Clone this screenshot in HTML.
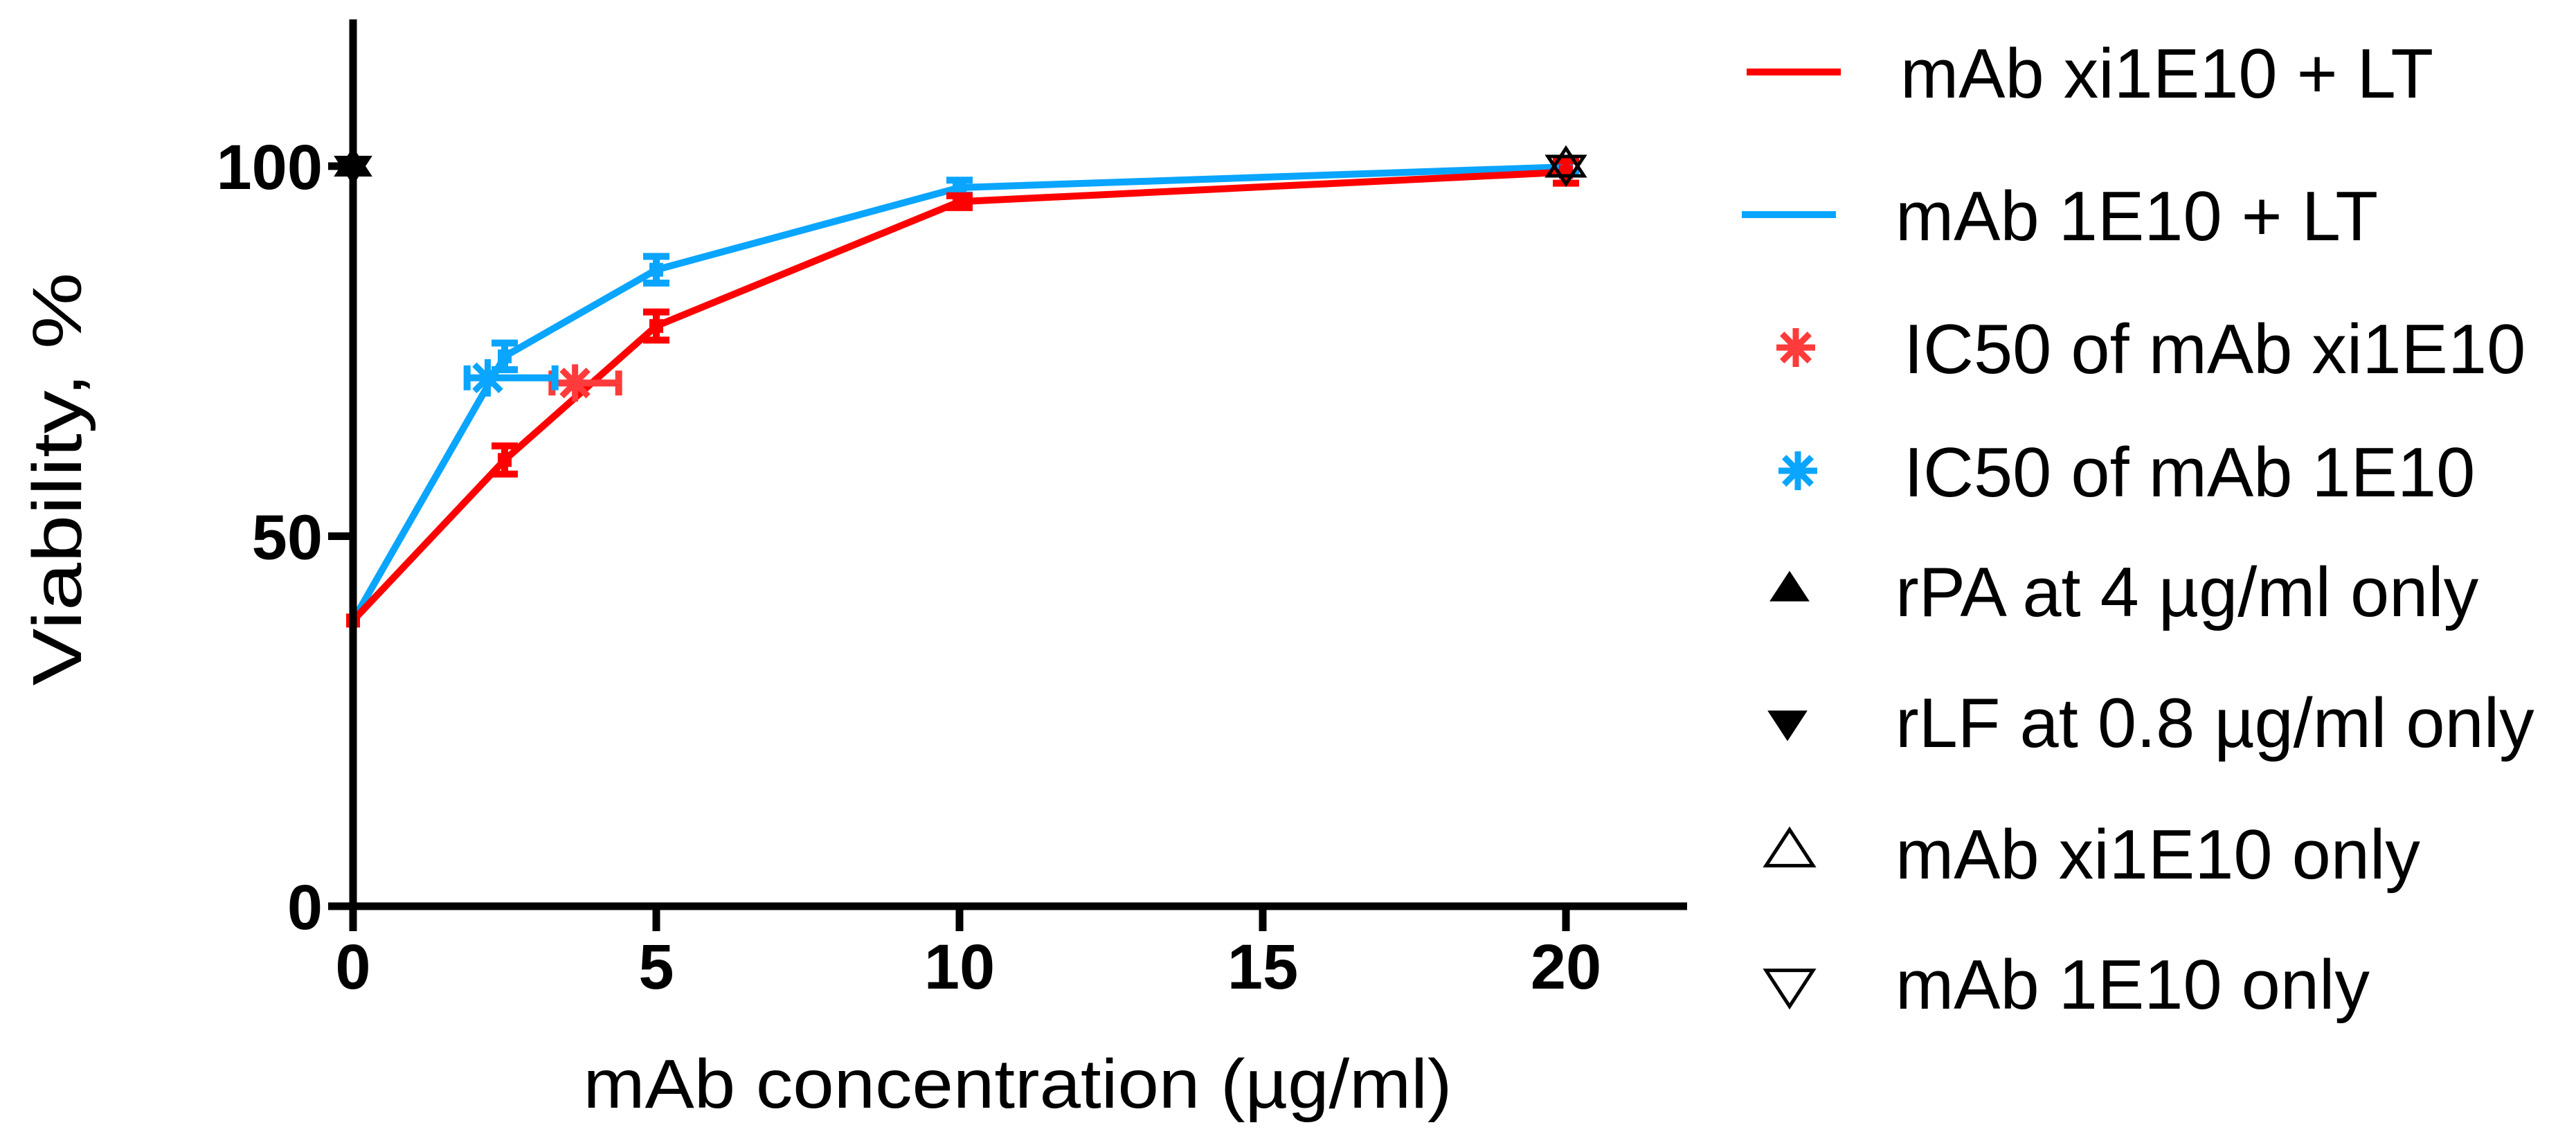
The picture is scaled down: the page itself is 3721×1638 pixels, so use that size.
<!DOCTYPE html>
<html><head><meta charset="utf-8"><style>
html,body{margin:0;padding:0;background:#fff;}
svg{display:block;font-family:"Liberation Sans",Arial,sans-serif;}
</style></head><body>
<svg id="chart" width="3721" height="1638" viewBox="0 0 3721 1638" xmlns="http://www.w3.org/2000/svg">
<g id="plot"></g>
<g id="legend"></g>
</svg>
<script>
const xTicks = [0, 5, 10, 15, 20];
const yTicks = [0, 50, 100];
const xCats = [0, 2.5, 5, 10, 20];
const redVals = [38.6, 60.3, 78.4, 95.2, 99.2];
const redErr = [0, 1.9, 1.9, 0.8, 1.5];
const blueVals = [38.6, 74.3, 86.0, 97.1, 99.9];
const blueErr = [0, 1.8, 1.8, 1.0, 0.8];
const ic50RedX = 3.66, ic50RedY = 70.7, ic50RedLo = 3.28, ic50RedHi = 4.38;
const ic50BlueX = 2.22, ic50BlueY = 71.4, ic50BlueLo = 1.88, ic50BlueHi = 3.33;
const controlsX = [0, 20];
const controlsY = [100, 100];

const NS = "http://www.w3.org/2000/svg";
const X0 = 510, XPER = 87.6, Y0 = 1309, YPER = 10.69;
function sx(v){ return X0 + v * XPER; }
function sy(v){ return Y0 - v * YPER; }
const plot = document.getElementById('plot');
const legend = document.getElementById('legend');
function mk(tag, attrs, parent){
  const e = document.createElementNS(NS, tag);
  for (const k in attrs) e.setAttribute(k, attrs[k]);
  (parent || plot).appendChild(e);
  return e;
}
const RED = "#ff0000", BLUE = "#0aa5ff", RED2 = "#ff3b3b";

function series(vals, errs, color, name){
  const g = mk('g', {});
  
  
  const pts = xCats.map((c,i)=>sx(c)+","+sy(vals[i])).join(" ");
  const pl = mk('polyline', {points: pts, fill: "none", stroke: color, "stroke-width": 10, "stroke-linejoin": "miter"}, g);
  
  
  xCats.forEach((c,i)=>{
    const x = sx(c), y = sy(vals[i]), e = errs[i]*YPER;
    if (errs[i] > 0) {
      const eb = mk('path', {d: `M${x},${y-e}V${y+e}M${x-19},${y-e}H${x+19}M${x-19},${y+e}H${x+19}`, stroke: color, "stroke-width": 10, fill: "none"}, g);
      
      
    }
    const m = mk('rect', {x: x-10, y: y-10, width: 20, height: 20, fill: color}, g);
    
    
  });
}
series(blueVals, blueErr, BLUE, 'series-1e10');
series(redVals, redErr, RED, 'series-xi1e10');
function star(cx, cy, r, color, parent){
  const g = mk('g', {stroke: color, "stroke-width": 9, "stroke-linecap": "butt"}, parent);
  for (let k=0;k<4;k++){
    const a = k*Math.PI/4;
    mk('line', {x1: cx - r*Math.cos(a), y1: cy - r*Math.sin(a), x2: cx + r*Math.cos(a), y2: cy + r*Math.sin(a)}, g);
  }
  return g;
}
function ic50(x, y, lo, hi, color, name){
  const g = mk('g', {});
  
  
  const X = sx(x), Y = sy(y), L = sx(lo), H = sx(hi);
  mk('path', {d: `M${L},${Y}H${H}M${L},${Y-18}V${Y+18}M${H},${Y-18}V${Y+18}`, stroke: color, "stroke-width": 10, fill: "none"}, g);
  star(X, Y, 27, color, g);
}
ic50(ic50RedX, ic50RedY, ic50RedLo, ic50RedHi, RED2, 'ic50-xi1e10');
ic50(ic50BlueX, ic50BlueY, ic50BlueLo, ic50BlueHi, BLUE, 'ic50-1e10');

function tri(cx, cy, up, filled, parent, s){
  s = s || 26;
  const h = s*0.9;
  const d = up ? `M${cx-s},${cy+h*0.6}L${cx+s},${cy+h*0.6}L${cx},${cy-h*1.1}Z` : `M${cx-s},${cy-h*0.6}L${cx+s},${cy-h*0.6}L${cx},${cy+h*1.1}Z`;
  return mk('path', {d, fill: filled ? "#000" : "none", stroke: "#000", "stroke-width": filled ? 2 : 5}, parent);
}
const c1 = tri(sx(controlsX[0]), sy(controlsY[0]), true, true);


const c2 = tri(sx(controlsX[0]), sy(controlsY[0]), false, true);


const c3 = tri(sx(controlsX[1]), sy(controlsY[1]), true, false);


const c4 = tri(sx(controlsX[1]), sy(controlsY[1]), false, false);



const ya = mk('line', {x1: X0, y1: 28, x2: X0, y2: Y0 + 36, stroke: "#000", "stroke-width": 11});


const xa = mk('line', {x1: X0 - 36, y1: Y0, x2: 2437, y2: Y0, stroke: "#000", "stroke-width": 11});


yTicks.forEach(t=>{
  const tk = mk('line', {x1: X0-36, y1: sy(t), x2: X0, y2: sy(t), stroke: "#000", "stroke-width": 11});
  
  
  const tx = mk('text', {x: X0-44, y: sy(t)+33, "text-anchor": "end", "font-size": 92, "font-weight": "bold"});
  tx.textContent = t;
  
  
});
xTicks.forEach(t=>{
  const tk = mk('line', {x1: sx(t), y1: Y0, x2: sx(t), y2: Y0+36, stroke: "#000", "stroke-width": 11});
  
  
  const tx = mk('text', {x: sx(t), y: 1428, "text-anchor": "middle", "font-size": 92, "font-weight": "bold"});
  tx.textContent = t;
  
  
});
const xt = mk('text', {x: 1470, y: 1600, "text-anchor": "middle", "font-size": 100, textLength: 1255, lengthAdjust: "spacingAndGlyphs"});
xt.textContent = "mAb concentration (µg/ml)";


const yt = mk('text', {x: 0, y: 0, "text-anchor": "middle", "font-size": 100, transform: "translate(117,692) rotate(-90)", textLength: 597, lengthAdjust: "spacingAndGlyphs"});
yt.textContent = "Viability, %";



const legLabels = ["mAb xi1E10 + LT","mAb 1E10 + LT","IC50 of mAb xi1E10","IC50 of mAb 1E10","rPA at 4 µg/ml only","rLF at 0.8 µg/ml only","mAb xi1E10 only","mAb 1E10 only"];
const legY = [104, 310, 502, 680, 853, 1042, 1232, 1420];
const legX = [2745, 2738, 2750, 2750, 2738, 2738, 2738, 2738];
const legNames = ["legend-entry-xi1e10-lt","legend-entry-1e10-lt","legend-entry-ic50-xi1e10","legend-entry-ic50-1e10","legend-entry-rpa","legend-entry-rlf","legend-entry-xi1e10-only","legend-entry-1e10-only"];
legLabels.forEach((lab,i)=>{
  const g = mk('g', {}, legend);
  
  
  const y = legY[i];
  if (i===0) mk('line', {x1: 2523, y1: y, x2: 2659, y2: y, stroke: RED, "stroke-width": 10}, g);
  if (i===1) mk('line', {x1: 2516, y1: y, x2: 2652, y2: y, stroke: BLUE, "stroke-width": 10}, g);
  if (i===2) star(2594, y, 28, RED2, g);
  if (i===3) star(2597, y, 28, BLUE, g);
  if (i===4) tri(2585, y, true, true, g, 27);
  if (i===5) tri(2582, y, false, true, g, 27);
  if (i===6) tri(2585, y, true, false, g, 34);
  if (i===7) tri(2585, y, false, false, g, 34);
  const t = mk('text', {x: legX[i], y: y+37, "font-size": 101}, g);
  t.textContent = lab;
});
</script>
</body></html>
